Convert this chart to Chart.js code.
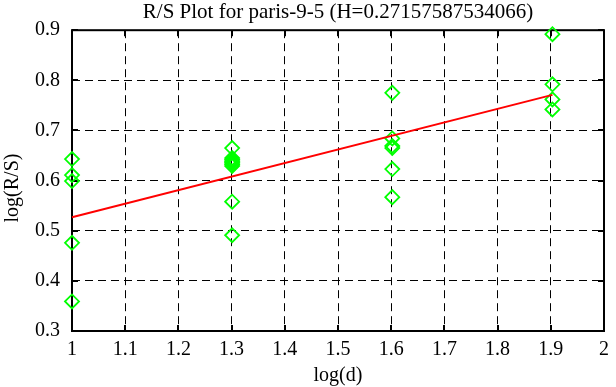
<!DOCTYPE html>
<html><head><meta charset="utf-8">
<script src="https://cdn.jsdelivr.net/npm/chart.js@4.4.1/dist/chart.umd.min.js"></script>
<style>html,body{margin:0;padding:0;background:#fff;}</style>
</head><body>
<canvas id="c" width="616" height="387"></canvas>
<script>
const titleText = 'R/S Plot for paris-9-5 (H=0.27157587534066)';
const xTitle = 'log(d)';
const yTitle = 'log(R/S)';
const xTickValues = [1, 1.1, 1.2, 1.3, 1.4, 1.5, 1.6, 1.7, 1.8, 1.9, 2];
const xTickLabels = ['1', '1.1', '1.2', '1.3', '1.4', '1.5', '1.6', '1.7', '1.8', '1.9', '2'];
const yTickValues = [0.3, 0.4, 0.5, 0.6, 0.7, 0.8, 0.9];
const yTickLabels = ['0.3', '0.4', '0.5', '0.6', '0.7', '0.8', '0.9'];

// observed points (log(d), log(R/S))
const logD = [1, 1.30103, 1.60206, 1.90309];
const logRS_d10 = [0.643, 0.611, 0.599, 0.476, 0.359];
const logRS_d20 = [0.665, 0.645, 0.642, 0.639, 0.637, 0.635, 0.632, 0.629, 0.558, 0.491];
const logRS_d40 = [0.775, 0.684, 0.669, 0.665, 0.623, 0.567];
const logRS_d80 = [0.892, 0.792, 0.762, 0.742];

// fitted line endpoints
const fitX = [1, 1.90309];
const fitY = [0.527, 0.771];

const groups = [logRS_d10, logRS_d20, logRS_d40, logRS_d80];
const points = [];
groups.forEach((g, i) => g.forEach(v => points.push({x: logD[i], y: v})));
const fitLine = fitX.map((x, i) => ({x, y: fitY[i]}));

const FONT = 'Liberation Serif';

const frame = {
  id: 'frame',
  beforeDatasetsDraw(chart) {
    const {ctx, chartArea: a, scales: {x, y}} = chart;
    ctx.save();
    ctx.strokeStyle = '#000';
    ctx.lineWidth = 2;
    ctx.setLineDash([]);
    ctx.strokeRect(a.left, a.top, a.right - a.left, a.bottom - a.top);
    const L = 6;
    ctx.beginPath();
    xTickValues.forEach(v => {
      const px = Math.round(x.getPixelForValue(v));
      ctx.moveTo(px, a.bottom); ctx.lineTo(px, a.bottom - L);
      ctx.moveTo(px, a.top); ctx.lineTo(px, a.top + L);
    });
    yTickValues.forEach(v => {
      const py = Math.round(y.getPixelForValue(v));
      ctx.moveTo(a.left, py); ctx.lineTo(a.left + L, py);
      ctx.moveTo(a.right, py); ctx.lineTo(a.right - L, py);
    });
    ctx.stroke();
    // y axis title, placed like the reference (centred on the canvas height)
    ctx.fillStyle = '#000';
    ctx.font = '20px "' + FONT + '"';
    ctx.textAlign = 'center';
    ctx.textBaseline = 'middle';
    ctx.translate(13, 188);
    ctx.rotate(-Math.PI / 2);
    ctx.fillText(yTitle, 0, 0);
    ctx.restore();
  }
};

new Chart(document.getElementById('c'), {
  type: 'scatter',
  data: {
    datasets: [
      {
        type: 'line',
        data: fitLine,
        borderColor: '#ff0000',
        borderWidth: 2,
        pointRadius: 0,
        fill: false,
        clip: false,
        order: 0
      },
      {
        data: points,
        pointStyle: 'rectRot',
        pointRadius: 7,
        pointBorderColor: '#00ff00',
        pointBackgroundColor: 'rgba(0,0,0,0)',
        pointBorderWidth: 1.8,
        showLine: false,
        clip: false,
        order: 1
      }
    ]
  },
  options: {
    responsive: false,
    animation: false,
    devicePixelRatio: 1,
    layout: {padding: {left: 0, right: 7, top: 0, bottom: 0}},
    plugins: {
      legend: {display: false},
      tooltip: {enabled: false},
      title: {
        display: true,
        text: titleText,
        color: '#000',
        fullSize: false,
        font: {family: FONT, size: 21, weight: 'normal', lineHeight: 1.2},
        padding: {top: 0, bottom: 5}
      }
    },
    scales: {
      x: {
        type: 'linear',
        min: 1, max: 2,
        afterBuildTicks: s => { s.ticks = xTickValues.map(v => ({value: v})); },
        afterFit: s => { s.height = 56; },
        ticks: {
          color: '#000',
          font: {family: FONT, size: 20},
          padding: 7,
          maxRotation: 0,
          autoSkip: false,
          callback: (v, i) => xTickLabels[i]
        },
        grid: {color: '#000', lineWidth: 1, drawTicks: false},
        border: {display: false, dash: [8, 5]},
        title: {
          display: true, text: xTitle, color: '#000',
          font: {family: FONT, size: 20, lineHeight: 1},
          padding: {top: 0, bottom: 1}
        }
      },
      y: {
        type: 'linear',
        min: 0.3, max: 0.9,
        afterBuildTicks: s => { s.ticks = yTickValues.map(v => ({value: v})); },
        afterFit: s => { s.width = 72; },
        ticks: {
          color: '#000',
          font: {family: FONT, size: 20},
          padding: 12,
          autoSkip: false,
          callback: (v, i) => yTickLabels[i]
        },
        grid: {color: '#000', lineWidth: 1, drawTicks: false},
        border: {display: false, dash: [8, 5]},
        title: {display: false}
      }
    }
  },
  plugins: [frame]
});
</script>
</body></html>
